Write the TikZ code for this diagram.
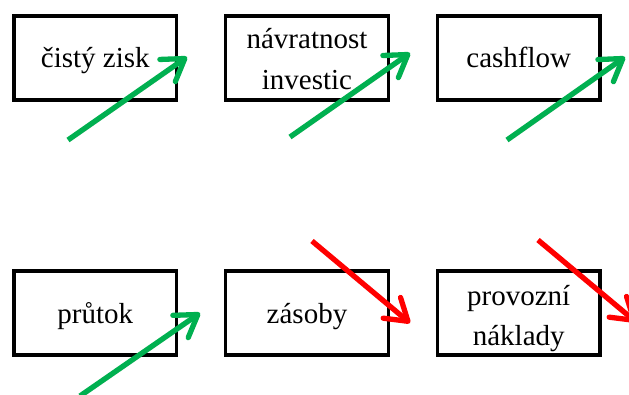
\documentclass[tikz,border=0pt]{standalone}
\usepackage{fontspec}
\setmainfont{Liberation Serif}
\usetikzlibrary{arrows.meta}
\definecolor{upgreen}{RGB}{0,176,80}
\definecolor{downred}{RGB}{255,0,0}
\tikzset{
  kpibox/.style={draw=black, line width=3.3pt, minimum width=162.5pt, minimum height=84pt, inner sep=0pt},
  kpitext/.style={anchor=base, inner sep=0pt, font=\fontsize{29}{41}\selectfont},
  trend/.style={line width=5.3pt, -{Straight Barb[length=21pt, width=27pt, line cap=round, line join=round]},
    preaction={draw=black, draw opacity=0.15, transform canvas={shift={(1.5pt,-2pt)}}}},
  up/.style={trend, draw=upgreen},
  down/.style={trend, draw=downred},
}
\begin{document}
\begin{tikzpicture}[x=1pt, y=1pt]
\useasboundingbox (0,0) rectangle (629,394);
\clip (0,0) rectangle (629,394);

% indicator boxes
\node[kpibox] (b1) at (95.25,336) {};
\node[kpibox] (b2) at (307,336) {};
\node[kpibox] (b3) at (518.75,336) {};
\node[kpibox] (b4) at (95.25,81) {};
\node[kpibox] (b5) at (307,81) {};
\node[kpibox] (b6) at (518.75,81) {};

% captions, set on their baselines
\node[kpitext] (t1) at ([yshift=-10pt]b1.center) {čistý zisk};
\node[kpitext] (t2a) at ([yshift=9pt]b2.center) {návratnost};
\node[kpitext] (t2b) at ([yshift=-32pt]b2.center) {investic};
\node[kpitext] (t3) at ([yshift=-10pt]b3.center) {cashflow};
\node[kpitext] (t4) at ([yshift=-10pt]b4.center) {průtok};
\node[kpitext] (t5) at ([yshift=-10pt]b5.center) {zásoby};
\node[kpitext] (t6a) at ([yshift=8pt]b6.center) {provozní};
\node[kpitext] (t6b) at ([yshift=-32pt]b6.center) {náklady};

% trend arrows
\coordinate (g1s) at (68,254);  \coordinate (g1e) at (187,337);
\coordinate (g2s) at (290,257); \coordinate (g2e) at (410,341);
\coordinate (g3s) at (507,254); \coordinate (g3e) at (625,337);
\coordinate (g4s) at (80,-2);   \coordinate (g4e) at (200,81);
\coordinate (r1s) at (312,153); \coordinate (r1e) at (410,71);
\coordinate (r2s) at (538,154); \coordinate (r2e) at (636,72);

\draw[up] (g1s) -- (g1e);
\draw[up] (g2s) -- (g2e);
\draw[up] (g3s) -- (g3e);
\draw[up] (g4s) -- (g4e);
\draw[down] (r1s) -- (r1e);
\draw[down] (r2s) -- (r2e);
\end{tikzpicture}
\end{document}
